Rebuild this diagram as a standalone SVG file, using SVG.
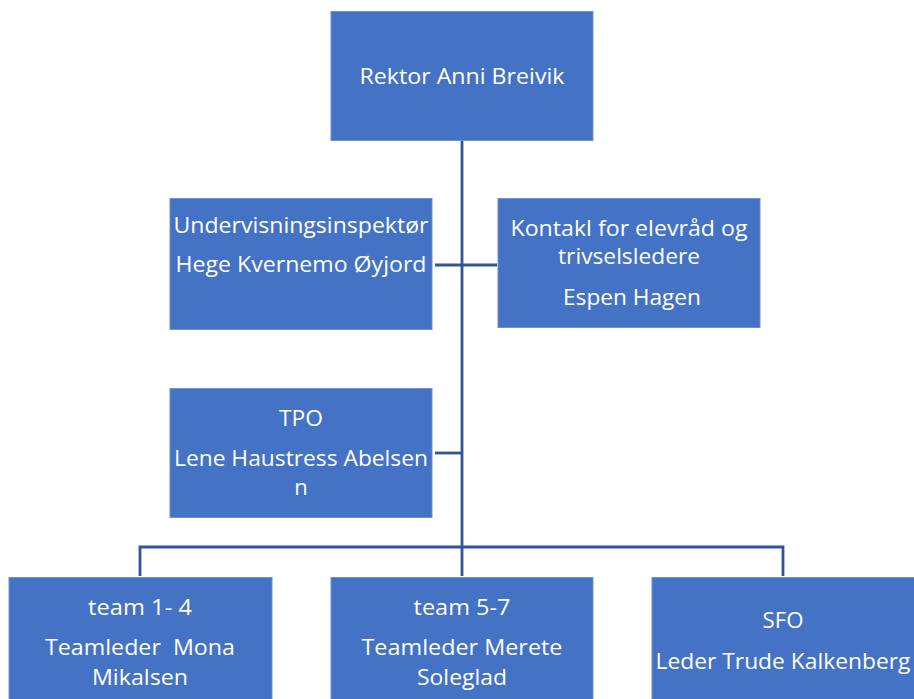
<svg xmlns="http://www.w3.org/2000/svg" width="914" height="699" viewBox="0 0 914 699">
<style>
.box{fill:#4472C4;stroke:#6E8FD0;stroke-width:1}
.t{font-family:"Open Sans","Noto Sans","Liberation Sans",sans-serif;font-size:22px;fill:#FFFFFF;text-anchor:middle}
.c{fill:none;stroke:#2F5597;stroke-width:2.8}
</style>
<rect width="914" height="699" fill="#FFFFFF"/>
<g id="connectors">
<path class="c" d="M462,141 V576"/>
<path class="c" d="M435,265 H497"/>
<path class="c" d="M435,453 H462"/>
<path class="c" d="M140,576 V547 H783 V576"/>
</g>
<g id="rektor">
<rect class="box" x="331" y="11.5" width="262" height="129"/>
<text class="t" x="462" y="84" textLength="205" lengthAdjust="spacingAndGlyphs">Rektor Anni Breivik</text>
</g>
<g id="undervisningsinspektor">
<rect class="box" x="170" y="198.5" width="262" height="131"/>
<text class="t" x="301" y="233" textLength="255" lengthAdjust="spacingAndGlyphs">Undervisningsinspektør</text>
<text class="t" x="301" y="272" textLength="251" lengthAdjust="spacingAndGlyphs">Hege Kvernemo Øyjord</text>
</g>
<g id="kontakt">
<rect class="box" x="498" y="198.5" width="262" height="129"/>
<text class="t" x="629" y="236" textLength="237" lengthAdjust="spacingAndGlyphs">Kontakl for elevråd og</text>
<text class="t" x="629" y="264" textLength="142" lengthAdjust="spacingAndGlyphs">trivselsledere</text>
<text class="t" x="632" y="305" textLength="138" lengthAdjust="spacingAndGlyphs">Espen Hagen</text>
</g>
<g id="tpo">
<rect class="box" x="170" y="388.5" width="262" height="129"/>
<text class="t" x="301" y="426" textLength="44" lengthAdjust="spacingAndGlyphs">TPO</text>
<text class="t" x="301" y="466" textLength="254" lengthAdjust="spacingAndGlyphs">Lene Haustress Abelsen</text>
<text class="t" x="301" y="495">n</text>
</g>
<g id="team1-4">
<rect class="box" x="9" y="577.5" width="263" height="123"/>
<text class="t" x="140" y="615" textLength="104" lengthAdjust="spacingAndGlyphs">team 1- 4</text>
<text class="t" x="140" y="655" textLength="190" lengthAdjust="spacingAndGlyphs" xml:space="preserve">Teamleder  Mona</text>
<text class="t" x="140" y="685" textLength="96" lengthAdjust="spacingAndGlyphs">Mikalsen</text>
</g>
<g id="team5-7">
<rect class="box" x="331" y="577.5" width="262" height="123"/>
<text class="t" x="462" y="615" textLength="97" lengthAdjust="spacingAndGlyphs">team 5-7</text>
<text class="t" x="462" y="655" textLength="201" lengthAdjust="spacingAndGlyphs">Teamleder Merete</text>
<text class="t" x="462" y="685" textLength="90" lengthAdjust="spacingAndGlyphs">Soleglad</text>
</g>
<g id="sfo">
<rect class="box" x="652" y="577.5" width="263" height="123"/>
<text class="t" x="783" y="628" textLength="41" lengthAdjust="spacingAndGlyphs">SFO</text>
<text class="t" x="783" y="669" textLength="255" lengthAdjust="spacingAndGlyphs">Leder Trude Kalkenberg</text>
</g>
</svg>
